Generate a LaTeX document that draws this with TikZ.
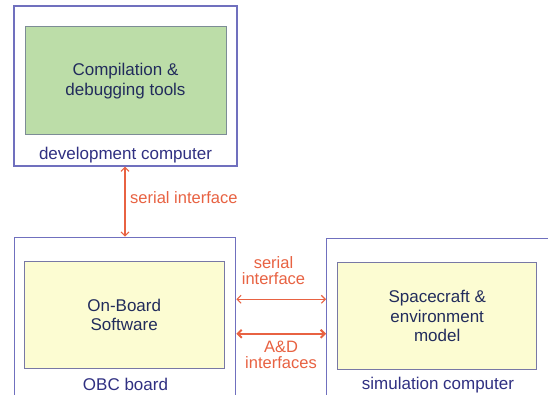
\documentclass[tikz,border=0pt]{standalone}
\usepackage{fontspec}
\setmainfont{Liberation Sans}
\usetikzlibrary{arrows.meta}
\definecolor{framecol}{RGB}{112,112,190}
\definecolor{labelcol}{RGB}{48,48,130}
\definecolor{innertext}{RGB}{34,44,92}
\definecolor{greenfill}{RGB}{188,221,168}
\definecolor{greenline}{RGB}{125,140,150}
\definecolor{yellowfill}{RGB}{252,252,210}
\definecolor{yellowline}{RGB}{120,120,165}
\definecolor{linkcol}{RGB}{232,98,66}
\tikzset{
  x=1pt, y=-1pt,
  every node/.style={font=\fontsize{17}{19.5}\selectfont, inner sep=0pt},
  machine/.style={draw=framecol, line width=1.2pt, fill=white},
  inner/.style={draw=#1, line width=1pt, text=innertext, align=center},
  caption/.style={text=labelcol},
  link/.style={draw=linkcol, line width=1.1pt,
    {Straight Barb[length=4pt,width=8pt]}-{Straight Barb[length=4pt,width=8pt]}},
  thicklink/.style={link, line width=2pt},
  linklabel/.style={text=linkcol, align=center, font=\fontsize{16.5}{16}\selectfont}
}
\begin{document}
\begin{tikzpicture}
\clip (0,0) rectangle (548,395);
\fill[white] (0,0) rectangle (548,395);

% development computer
\node[machine, minimum width=223pt, minimum height=160pt] (dev) at (125.5,86) {};
\node[inner=greenline, fill=greenfill, minimum width=201pt, minimum height=108pt]
  (tools) at (125.5,81) {Compilation \&\\debugging tools};
\node[caption] (devlbl) at (125.5,155) {development computer};

% OBC board
\node[machine, minimum width=221pt, minimum height=180pt] (obc) at (125.2,327.3) {};
\node[inner=yellowline, fill=yellowfill, minimum width=200.3pt, minimum height=106.8pt]
  (obsw) at (124.2,315.1) {On-Board\\Software};
\node[caption] (obclbl) at (125.5,384) {OBC board};

% simulation computer
\node[machine, minimum width=233pt, minimum height=180pt] (sim) at (443.2,328.3) {};
\node[inner=yellowline, fill=yellowfill, minimum width=199pt, minimum height=106.6pt]
  (model) at (437.2,316) {Spacecraft \&\\environment\\model};
\node[caption] (simlbl) at (438,385.5) {simulation computer};

% interfaces
\coordinate (sx) at (125,0);
\draw[link] (dev.south -| sx) -- (obc.north -| sx);
\node[linklabel, anchor=west] (serA) at (130,197.5) {serial interface};

\coordinate (s1) at (0,299.3);
\coordinate (s2) at (0,333.8);
\draw[link] (obc.east |- s1) -- (sim.west |- s1);
\draw[thicklink] (obc.east |- s2) -- (sim.west |- s2);
\node[linklabel] (serB) at (273.5,270.5) {serial\\interface};
\node[linklabel] (adi) at (281,354.7) {A\&D\\interfaces};
\end{tikzpicture}
\end{document}
